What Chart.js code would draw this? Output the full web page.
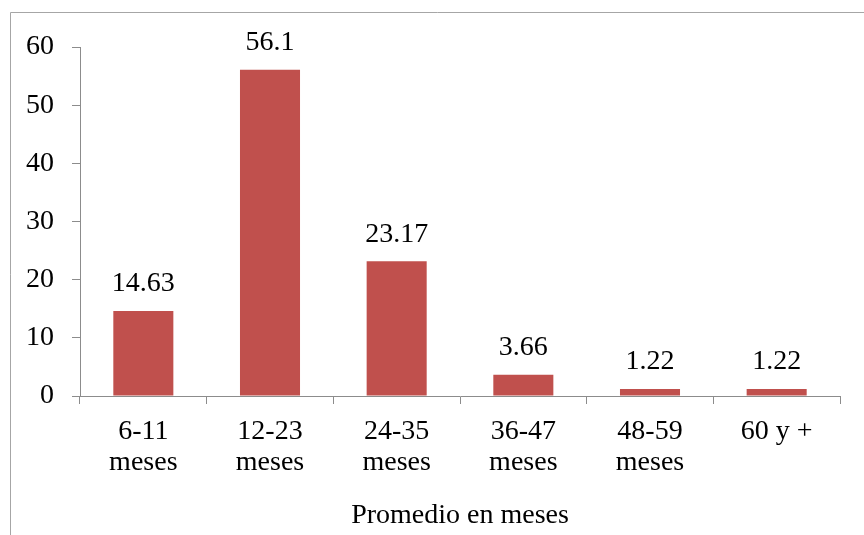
<!DOCTYPE html>
<html>

<head>
    <title>Promedio en meses</title>
    <script src="https://cdn.jsdelivr.net/npm/chart.js@4/dist/chart.umd.min.js"></script>
    <style>
        html, body { margin: 0; padding: 0; background: #fff; }
        #wrap { width: 864px; height: 535px; position: relative; }
    </style>
</head>

<body>
    <div id="wrap"><canvas id="myChart" width="864" height="535"></canvas></div>

    <script>
        // Age groups and the share in each one
        var categories = [['6-11', 'meses'], ['12-23', 'meses'], ['24-35', 'meses'], ['36-47', 'meses'], ['48-59', 'meses'], '60 y +'];
        var values = [14.63, 56.1, 23.17, 3.66, 1.22, 1.22];
        var valueLabels = ['14.63', '56.1', '23.17', '3.66', '1.22', '1.22'];
        var yTicks = [0, 10, 20, 30, 40, 50, 60];

        var FONT = '"Liberation Serif", serif';
        var AXIS = '#8c8c8c';

        // frame around the chart, open at right and bottom
        var framePlugin = {
            id: 'frame',
            beforeDraw: function (chart) {
                var c = chart.ctx;
                c.save();
                c.strokeStyle = '#a6a6a6';
                c.lineWidth = 1;
                c.beginPath();
                c.moveTo(10.5, chart.height + 5);
                c.lineTo(10.5, 12.5);
                c.lineTo(chart.width + 5, 12.5);
                c.stroke();
                c.restore();
            }
        };

        // value written above each bar
        var valuePlugin = {
            id: 'values',
            afterDatasetsDraw: function (chart) {
                var c = chart.ctx;
                var meta = chart.getDatasetMeta(0);
                c.save();
                c.font = '28px ' + FONT;
                c.fillStyle = '#000';
                c.textAlign = 'center';
                c.textBaseline = 'middle';
                meta.data.forEach(function (bar, i) {
                    c.fillText(valueLabels[i], bar.x, bar.y - 27);
                });
                c.restore();
            }
        };

        var ctx = document.getElementById('myChart');
        new Chart(ctx, {
            type: 'bar',
            data: {
                labels: categories,
                datasets: [{
                    data: values,
                    backgroundColor: '#c0504d',
                    barPercentage: 1,
                    categoryPercentage: 0.474
                }]
            },
            options: {
                responsive: false,
                animation: false,
                events: [],
                layout: { padding: { left: 0, right: 24, top: 47, bottom: 0 } },
                plugins: {
                    legend: { display: false },
                    tooltip: { enabled: false }
                },
                scales: {
                    x: {
                        offset: true,
                        grid: { offset: true, drawOnChartArea: false, color: AXIS, tickLength: 8 },
                        border: { color: AXIS },
                        ticks: { color: '#000', font: { family: FONT, size: 28, lineHeight: 1.08 }, padding: 13, maxRotation: 0 },
                        title: {
                            display: true,
                            text: 'Promedio en meses',
                            color: '#000',
                            font: { family: FONT, size: 28 },
                            padding: { top: 0, bottom: 3 }
                        },
                        afterFit: function (scale) { scale.height = 139; }
                    },
                    y: {
                        min: 0,
                        max: 60,
                        afterBuildTicks: function (scale) {
                            scale.ticks = yTicks.map(function (v) { return { value: v }; });
                        },
                        grid: { drawOnChartArea: false, color: AXIS, tickLength: 8 },
                        border: { color: AXIS },
                        ticks: { color: '#000', font: { family: FONT, size: 28 }, padding: 18 },
                        afterFit: function (scale) { scale.width = 80; }
                    }
                }
            },
            plugins: [framePlugin, valuePlugin]
        });
    </script>
</body>

</html>
